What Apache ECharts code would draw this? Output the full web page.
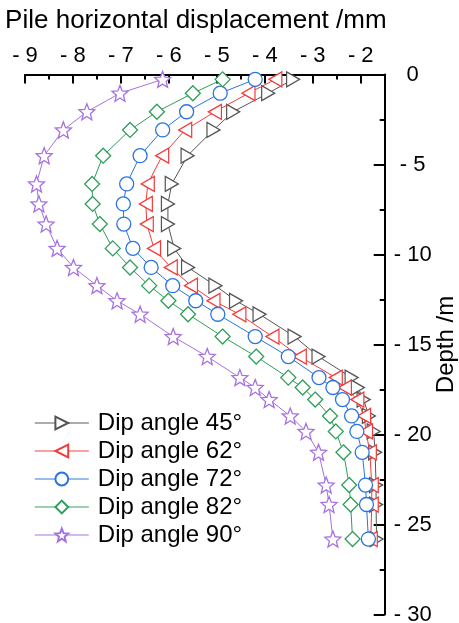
<!DOCTYPE html>
<html>
<head>
<meta charset="utf-8">
<script src="https://cdn.jsdelivr.net/npm/echarts@6/dist/echarts.min.js"></script>
<style>
html,body{margin:0;padding:0;background:#fff;}
#chart{width:459px;height:623px;}
</style>
</head>
<body>
<div id="chart"></div>
<script>
// Depth of measurement points (m)
const depths = [0.27, 1.04, 2.07, 3.08, 4.51, 6.08, 7.19, 8.31, 9.66, 10.72, 11.73, 12.57, 13.32, 14.56, 15.67, 16.84, 17.39, 18.06, 18.97, 19.83, 20.99, 22.81, 23.89, 25.81];
// Horizontal displacement (mm) for each dip angle
const dip45 = [-3.41, -3.93, -4.66, -5.07, -5.61, -5.94, -6.02, -6.02, -5.89, -5.60, -5.03, -4.60, -4.11, -3.38, -2.88, -2.19, -2.06, -1.94, -1.83, -1.73, -1.70, -1.68, -1.68, -1.67];
const dip62 = [-3.78, -4.34, -5.04, -5.66, -6.14, -6.44, -6.48, -6.46, -6.31, -5.96, -5.54, -5.07, -4.53, -3.84, -3.27, -2.52, -2.33, -2.07, -1.93, -1.89, -1.81, -1.77, -1.77, -1.79];
const dip72 = [-4.20, -4.93, -5.63, -6.13, -6.60, -6.88, -6.95, -6.94, -6.75, -6.37, -5.92, -5.44, -4.98, -4.20, -3.51, -2.87, -2.58, -2.38, -2.19, -2.08, -1.97, -1.90, -1.88, -1.84];
const dip82 = [-4.88, -5.50, -6.25, -6.81, -7.37, -7.60, -7.59, -7.44, -7.17, -6.81, -6.41, -6.01, -5.60, -4.88, -4.18, -3.51, -3.21, -2.95, -2.64, -2.52, -2.36, -2.24, -2.21, -2.17];
const dip90 = [-6.13, -7.02, -7.71, -8.20, -8.60, -8.76, -8.71, -8.56, -8.33, -7.99, -7.50, -7.08, -6.60, -5.91, -5.20, -4.52, -4.20, -3.91, -3.47, -3.14, -2.88, -2.72, -2.66, -2.58];
const seriesNames = ['Dip angle 45°', 'Dip angle 62°', 'Dip angle 72°', 'Dip angle 82°', 'Dip angle 90°'];
const xMajorTicks = [-9, -8, -7, -6, -5, -4, -3, -2];
const xMinorTicks = [-8.5, -7.5, -6.5, -5.5, -4.5, -3.5, -2.5];

const colors = ['#555555', '#f23c3c', '#2a74e2', '#2e9e5a', '#a672e0'];
const symbols = [
  'path://M0,0 L10,5 L0,10 Z',
  'path://M10,0 L0,5 L10,10 Z',
  'circle',
  'diamond',
  'path://M50,0 L62.9,32.2 L97.6,34.5 L70.9,56.8 L79.4,90.5 L50,72 L20.6,90.5 L29.1,56.8 L2.4,34.5 L37.1,32.2 Z'
];
const sizes = [[13, 15], [13, 15], 14, 15, 16];
const allX = [dip45, dip62, dip72, dip82, dip90];

function fmt(v) {
  if (v === 0) return '0';
  return '- ' + Math.abs(v);
}

const chart = echarts.init(document.getElementById('chart'));
const FONT = 'Liberation Sans, Arial, sans-serif';

const option = {
  animation: false,
  backgroundColor: '#fff',
  grid: { left: 25, right: 74.3, top: 74.5, bottom: 8.5, outerBoundsMode: 'none', containLabel: false },
  xAxis: [{
    type: 'value', position: 'top', min: -9, max: -1.5,
    name: 'Pile horizontal displacement /mm', nameLocation: 'middle', nameGap: 41,
    nameTextStyle: { fontSize: 26, color: '#000', fontFamily: FONT, padding: [0, 18, 0, 0] },
    axisLine: { show: true, lineStyle: { color: '#000', width: 2 } },
    axisTick: { show: true, inside: true, length: 9, lineStyle: { color: '#000', width: 2 }, customValues: xMajorTicks },
    axisLabel: { fontSize: 22, color: '#000', fontFamily: FONT, margin: 8, formatter: fmt, customValues: xMajorTicks },
    splitLine: { show: false }
  }, {
    type: 'value', position: 'top', min: -9, max: -1.5,
    axisLine: { show: false },
    axisTick: { show: true, inside: true, length: 5, lineStyle: { color: '#000', width: 2 }, customValues: xMinorTicks },
    axisLabel: { show: false },
    splitLine: { show: false }
  }],
  yAxis: {
    type: 'value', position: 'right', min: -30, max: 0, interval: 5,
    name: 'Depth /m', nameLocation: 'middle', nameGap: 50, nameRotate: 90, nameMoveOverlap: false,
    nameTextStyle: { fontSize: 24, color: '#000', fontFamily: FONT },
    axisLine: { show: true, lineStyle: { color: '#000', width: 2 } },
    axisTick: { show: true, inside: true, length: 11, lineStyle: { color: '#000', width: 2 } },
    minorTick: { show: true, splitNumber: 2, length: 5, lineStyle: { color: '#000', width: 2 } },
    axisLabel: { fontSize: 22, color: '#000', fontFamily: FONT, margin: 28, align: 'center', formatter: fmt },
    splitLine: { show: false }
  },
  legend: {
    orient: 'vertical', left: 34, top: 411, padding: 0,
    itemWidth: 54, itemHeight: 16, itemGap: 4,
    lineStyle: { width: 1.6, opacity: 0.65 },
    textStyle: { fontSize: 24, color: '#000', fontFamily: FONT, lineHeight: 24, padding: [0, 0, 0, 4] },
    data: seriesNames
  },
  series: seriesNames.map((name, k) => ({
    name: name,
    type: 'line',
    xAxisIndex: 0,
    data: depths.map((d, i) => [allX[k][i], -d]),
    symbol: symbols[k],
    symbolSize: sizes[k],
    showAllSymbol: true,
    color: colors[k],
    lineStyle: { width: 1, color: colors[k] },
    itemStyle: { color: '#fff', borderColor: colors[k], borderWidth: 1.3 },
    z: 2 + k
  }))
};
chart.setOption(option);
</script>
</body>
</html>
